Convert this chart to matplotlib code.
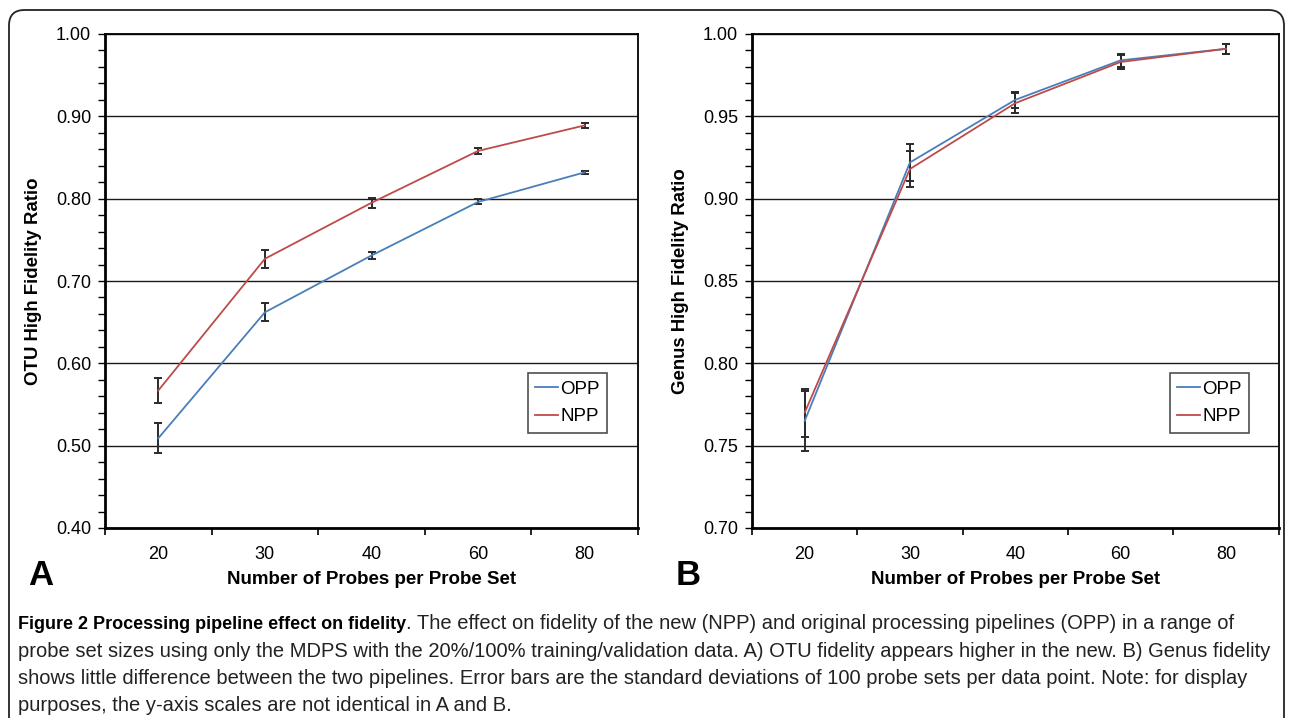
import numpy as np
import matplotlib
matplotlib.use("Agg")
import matplotlib.pyplot as plt
from matplotlib.lines import Line2D
from matplotlib.patches import FancyBboxPatch
from matplotlib.ticker import MultipleLocator, FixedLocator, NullFormatter

plt.rcParams['font.family'] = ['Liberation Sans', 'DejaVu Sans']

# Données
probes = ["20", "30", "40", "60", "80"]

otu_opp = [0.509, 0.662, 0.731, 0.796, 0.832]
otu_opp_sd = [0.018, 0.011, 0.004, 0.003, 0.002]
otu_npp = [0.567, 0.727, 0.795, 0.858, 0.889]
otu_npp_sd = [0.015, 0.011, 0.006, 0.004, 0.003]

genus_opp = [0.765, 0.922, 0.960, 0.984, 0.991]
genus_opp_sd = [0.018, 0.011, 0.005, 0.004, 0.003]
genus_npp = [0.770, 0.918, 0.958, 0.983, 0.991]
genus_npp_sd = [0.0145, 0.011, 0.006, 0.004, 0.003]

BLUE = "#4a7ebb"
RED = "#be4b48"

caption_bold = "Figure 2 Processing pipeline effect on fidelity"
caption_lines = [
    ". The effect on fidelity of the new (NPP) and original processing pipelines (OPP) in a range of",
    "probe set sizes using only the MDPS with the 20%/100% training/validation data. A) OTU fidelity appears higher in the new. B) Genus fidelity",
    "shows little difference between the two pipelines. Error bars are the standard deviations of 100 probe sets per data point. Note: for display",
    "purposes, the y-axis scales are not identical in A and B.",
]

W, H = 1290, 718


def draw_panel(ax, opp, opp_sd, npp, npp_sd, ylim, minor, ylabel, letter):
    x = np.arange(len(probes))
    ax.errorbar(x, opp, yerr=opp_sd, color=BLUE, lw=1.3, ecolor="#2a2a2a",
                elinewidth=1.4, capsize=3, capthick=1.4, zorder=3)
    ax.errorbar(x, npp, yerr=npp_sd, color=RED, lw=1.3, ecolor="#2a2a2a",
                elinewidth=1.4, capsize=3, capthick=1.4, zorder=3)

    ax.set_xlim(-0.5, len(probes) - 0.5)
    ax.set_ylim(*ylim)
    ax.yaxis.set_major_locator(MultipleLocator(0.1 if minor == 0.02 else 0.05))
    ax.yaxis.set_minor_locator(MultipleLocator(minor))
    ax.yaxis.set_major_formatter(plt.FuncFormatter(lambda v, p: f"{v:.2f}"))
    ax.grid(axis="y", which="major", color="#1a1a1a", lw=1.0)
    ax.set_axisbelow(True)

    ax.set_xticks(x)
    ax.set_xticklabels(probes)
    ax.xaxis.set_minor_locator(FixedLocator(np.arange(-0.5, len(probes), 1.0)))
    ax.xaxis.set_minor_formatter(NullFormatter())
    ax.tick_params(axis="x", which="major", length=0, pad=13, labelsize=13)
    ax.tick_params(axis="x", which="minor", length=5, width=1.2, direction="out")
    ax.tick_params(axis="y", which="both", length=5, width=1.0, direction="out",
                   labelsize=13, pad=5)

    for side in ["left", "bottom"]:
        ax.spines[side].set_linewidth(2.0)
    for side in ["top", "right"]:
        ax.spines[side].set_linewidth(1.3)

    ax.set_xlabel("Number of Probes per Probe Set", fontsize=13.5, fontweight="bold", labelpad=6)
    ax.set_ylabel(ylabel, fontsize=13.4, fontweight="bold", labelpad=10)

    handles = [Line2D([], [], color=BLUE, lw=1.3), Line2D([], [], color=RED, lw=1.3)]
    leg = ax.legend(handles, ["OPP", "NPP"], loc="upper left",
                    bbox_to_anchor=(0.793, 0.313), fontsize=13.5,
                    frameon=True, fancybox=False, handlelength=1.2, handletextpad=0.15,
                    borderpad=0.4, labelspacing=0.55, borderaxespad=0)
    leg.get_frame().set_edgecolor("#222222")
    leg.get_frame().set_linewidth(1.2)

    ax.text(-0.145, -0.115, letter, transform=ax.transAxes, fontsize=25,
            fontweight="bold", ha="left", va="baseline")


fig = plt.figure(figsize=(W / 100, H / 100), dpi=100)
ax_a = fig.add_axes([105 / W, 1 - 528 / H, 533 / W, 494 / H])
ax_b = fig.add_axes([752 / W, 1 - 528 / H, 526.5 / W, 494 / H])

draw_panel(ax_a, otu_opp, otu_opp_sd, otu_npp, otu_npp_sd, (0.40, 1.00), 0.02,
           "OTU High Fidelity Ratio", "A")
draw_panel(ax_b, genus_opp, genus_opp_sd, genus_npp, genus_npp_sd, (0.70, 1.00), 0.01,
           "Genus High Fidelity Ratio", "B")

# Cadre arrondi autour de la figure
frame = FancyBboxPatch((9 / W, -0.05), (1284 - 9) / W, 1.05 - 10 / H,
                       boxstyle="round,pad=0,rounding_size=0.012",
                       transform=fig.transFigure, fill=False, ec="#222222", lw=1.3,
                       mutation_aspect=W / H)
fig.patches.append(frame)

# Légende de la figure
line_y = [629, 657, 684, 711]
bold = fig.text(18 / W, 1 - line_y[0] / H, caption_bold, fontsize=13,
                fontweight="bold", va="baseline", ha="left")
fig.canvas.draw()
bb = bold.get_window_extent()
fig.text(bb.x1 / W, 1 - line_y[0] / H, caption_lines[0], fontsize=14.5,
         va="baseline", ha="left", color="#222222")
for txt, y in zip(caption_lines[1:], line_y[1:]):
    fig.text(18 / W, 1 - y / H, txt, fontsize=14.5,
             va="baseline", ha="left", color="#222222")

fig.savefig("out.png", dpi=100)
